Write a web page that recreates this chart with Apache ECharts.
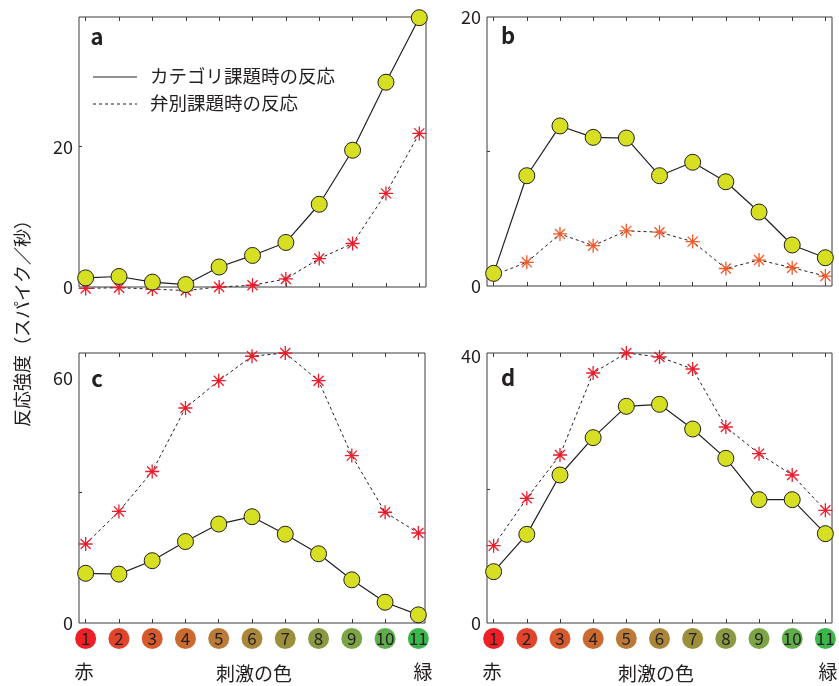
<!DOCTYPE html>
<html><head><meta charset="utf-8">
<script src="https://cdn.jsdelivr.net/npm/echarts@6/dist/echarts.min.js"></script>
<style>html,body{margin:0;padding:0;background:#fff}#c{width:839px;height:686px}</style>
</head><body><div id="c"></div>
<script>
const categories = [1,2,3,4,5,6,7,8,9,10,11];
const stimulusColors = ['#ee2027','#e2432b','#d85a2c','#cb6a2f','#bb7a37','#a9863a','#9c8f3c','#8b9a42','#7ca446','#5fad4a','#3cb54b'];

// panel a
const aCategory = [1.3,1.5,0.7,0.35,2.85,4.5,6.35,11.8,19.5,29.2,38.4];
const aDiscrim  = [-0.2,-0.1,-0.3,-0.5,0,0.25,1.15,4.05,6.2,13.35,21.9];
// panel b
const bCategory = [0.94,8.2,11.9,11.05,11.0,8.2,9.2,7.75,5.5,3.05,2.1];
const bDiscrim  = [0.8,1.76,3.87,3.0,4.1,4.0,3.3,1.3,1.93,1.36,0.74];
// panel c
const cCategory = [12.2,12.0,15.3,20.0,24.3,26.1,21.8,17.0,10.6,5.1,2.0];
const cDiscrim  = [19.4,27.4,37.2,52.8,59.5,65.5,66.3,59.5,41.1,27.2,22.1];
// panel d
const dCategory = [7.7,13.3,22.2,27.8,32.5,32.8,29.1,24.7,18.5,18.5,13.4];
const dDiscrim  = [11.6,18.7,25.2,37.5,40.5,39.9,38.1,29.4,25.4,22.2,16.9];

const yTickLabels = [[0,20],[0,20],[0,60],[0,40]];
const yTickMarks  = [[20],[10],[32],[20]];
const yMax = [38.5,20,66.3,40.5];

const legendLabels = ['カテゴリ課題時の反応','弁別課題時の反応'];
const panelLetters = ['a','b','c','d'];
const yTitle = '反応強度（スパイク／秒）';
const xTitle = '刺激の色';
const xEnds = ['赤','緑'];

const TXT = '#231f20';
const FONT = '"Noto Sans CJK JP","Noto Sans",sans-serif';
const starPath = 'path://M0,-6L0,6M-6,0L6,0M-4.3,-4.3L4.3,4.3M-4.3,4.3L4.3,-4.3';

const grids = [
  {left:79, top:17, width:347, height:270},
  {left:487, top:17, width:345, height:269},
  {left:79, top:353, width:346, height:270},
  {left:487, top:353, width:345, height:270}
].map(g => Object.assign(g, {show:true, borderColor:'#3a3a3a', borderWidth:1, backgroundColor:'transparent'}));

const rich = {};
categories.forEach((c,i) => {
  rich['c'+c] = {backgroundColor: stimulusColors[i], borderRadius:10.5, width:21, height:21, lineHeight:21,
    align:'center', verticalAlign:'middle', fontSize:17, color:TXT, fontFamily:FONT};
});

const xAxes = [], yAxes = [];
for (let p=0; p<4; p++) {
  const showLabels = p >= 2;
  xAxes.push({type:'value', gridIndex:p, position:'bottom', min:0.8, max:11.2,
    splitLine:{show:false}, axisLine:{show:false},
    axisTick:{show:true, inside:true, length:4, customValues:categories, lineStyle:{color:'#3a3a3a'}},
    axisLabel:{show:showLabels, customValues:categories, margin:5, formatter: v => '{c'+v+'|'+v+'}', rich: rich}
  });
  xAxes.push({type:'value', gridIndex:p, position:'top', min:0.8, max:11.2,
    splitLine:{show:false}, axisLine:{show:false},
    axisTick:{show:true, inside:true, length:4, customValues:categories, lineStyle:{color:'#3a3a3a'}},
    axisLabel:{show:false}
  });
  yAxes.push({type:'value', gridIndex:p, min:0, max:yMax[p],
    splitLine:{show:false}, axisLine:{show:false},
    axisTick:{show:true, inside:true, length:3, customValues:yTickMarks[p], lineStyle:{color:'#3a3a3a'}},
    axisLabel:{show:true, customValues:yTickLabels[p], margin:6, fontSize:18, color:TXT, fontFamily:FONT}
  });
}

const panels = [[aCategory,aDiscrim],[bCategory,bDiscrim],[cCategory,cDiscrim],[dCategory,dDiscrim]];
const series = [];
panels.forEach((pd,p) => {
  const starColor = p === 1 ? '#f15a29' : '#ec1c2b';
  series.push({type:'line', xAxisIndex:2*p, yAxisIndex:p, clip:false, animation:false,
    data: categories.map((c,i)=>[c, pd[1][i]]),
    symbol: starPath, symbolSize:14, showSymbol:true,
    lineStyle:{color:TXT, width:1, type:[3,3]},
    itemStyle:{color:starColor, borderColor:starColor, borderWidth:1.3}
  });
  series.push({type:'line', xAxisIndex:2*p, yAxisIndex:p, clip:false, animation:false,
    data: categories.map((c,i)=>[c, pd[0][i]]),
    symbol:'circle', symbolSize:16,
    lineStyle:{color:TXT, width:1.2},
    itemStyle:{color:'#d7df23', borderColor:'#231f20', borderWidth:1}
  });
});

const graphic = [];
const letterPos = [[97,37],[508,36],[97,379],[508,378]];
panelLetters.forEach((l,i)=>{
  graphic.push({type:'text', x:letterPos[i][0], y:letterPos[i][1],
    style:{text:l, font:'bold 22px '+FONT, fill:TXT, align:'center', verticalAlign:'middle'}});
});
// legend
graphic.push({type:'line', shape:{x1:93,y1:77,x2:137,y2:77}, style:{stroke:TXT, lineWidth:1}});
graphic.push({type:'line', shape:{x1:93,y1:104,x2:137,y2:104}, style:{stroke:TXT, lineWidth:1, lineDash:[3,3]}});
graphic.push({type:'text', x:150, y:76, style:{text:legendLabels[0], font:'18.5px '+FONT, fill:TXT, align:'left', verticalAlign:'middle'}});
graphic.push({type:'text', x:150, y:103, style:{text:legendLabels[1], font:'18.5px '+FONT, fill:TXT, align:'left', verticalAlign:'middle'}});
// y title
graphic.push({type:'text', x:22, y:319, rotation:Math.PI/2,
  style:{text:yTitle, font:'18px '+FONT, fill:TXT, align:'center', verticalAlign:'middle'}});
// x titles
[[84,254,423],[492,656,828]].forEach(xs=>{
  graphic.push({type:'text', x:xs[0], y:672, style:{text:xEnds[0], font:'19px '+FONT, fill:TXT, align:'center', verticalAlign:'middle'}});
  graphic.push({type:'text', x:xs[1], y:674, style:{text:xTitle, font:'19px '+FONT, fill:TXT, align:'center', verticalAlign:'middle'}});
  graphic.push({type:'text', x:xs[2], y:672, style:{text:xEnds[1], font:'19px '+FONT, fill:TXT, align:'center', verticalAlign:'middle'}});
});

const chart = echarts.init(document.getElementById('c'), null, {renderer:'canvas'});
chart.setOption({animation:false, backgroundColor:'#fff', grid:grids, xAxis:xAxes, yAxis:yAxes, series:series, graphic:graphic});
</script>
</body></html>
